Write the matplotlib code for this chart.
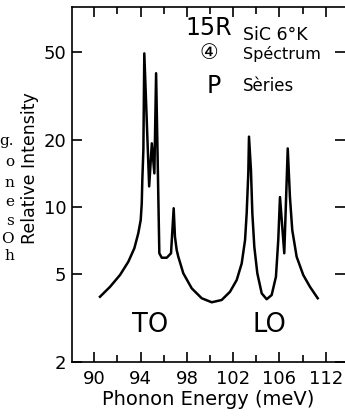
import numpy as np
import matplotlib.pyplot as plt
from matplotlib.ticker import FixedLocator, NullLocator

# Phonon spectrum of 15R SiC
energy = [90.49, 91.36, 92.22, 92.94, 93.46, 93.80, 94.01, 94.10, 94.15, 94.24,
          94.32, 94.74, 94.97, 95.19, 95.34, 95.62, 95.83, 96.26, 96.63, 96.86,
          96.97, 97.12, 97.26, 97.69, 98.42, 99.28, 100.15, 101.01, 101.73,
          102.31, 102.74, 103.03, 103.17, 103.31, 103.37, 103.54, 103.66, 103.83,
          104.09, 104.47, 104.90, 105.33, 105.70, 105.90, 106.05, 106.42, 106.72,
          106.91, 107.11, 107.49, 108.06, 108.64, 109.31]
intensity = [3.94, 4.37, 4.94, 5.67, 6.52, 7.62, 8.75, 10.4, 13.3, 18.1,
             49.4, 12.4, 19.4, 14.2, 40.2, 6.19, 5.91, 5.91, 6.19, 9.88,
             7.35, 6.40, 5.97, 5.03, 4.30, 3.88, 3.72, 3.81, 4.15,
             4.69, 5.57, 7.10, 9.38, 14.2, 20.8, 14.7, 9.38, 6.62,
             5.03, 4.08, 3.84, 4.01, 4.85, 7.10, 11.1, 6.19, 18.4,
             11.1, 7.88, 5.97, 4.94, 4.37, 3.88]

x_ticks = [90, 94, 98, 102, 106, 110]
x_labels = ['90', '94', '98', '102', '106', '112']
x_minor = [92, 96, 100, 104, 108]
y_ticks = [2, 5, 10, 20, 50]
y_labels = ['2', '5', '10', '20', '50']

# cut-off caption of the neighbouring column
caption_bits = ['g.', 'o', 'n', 'e', 's', 'O', 'h']
caption_y = [145, 166, 187, 206, 225, 243, 260]

W, H = 345, 419
fig = plt.figure(figsize=(W / 100, H / 100), dpi=100)
ax = fig.add_axes([72 / W, (H - 362) / H, (W - 72) / W, 355 / H])

ax.plot(energy, intensity, color='black', lw=1.8, solid_joinstyle='round')
ax.set_yscale('log')
ax.set_xlim(88.07, 111.67)
ax.set_ylim(2, 80)

ax.xaxis.set_major_locator(FixedLocator(x_ticks))
ax.xaxis.set_minor_locator(FixedLocator(x_minor))
ax.set_xticklabels(x_labels)
ax.yaxis.set_major_locator(FixedLocator(y_ticks))
ax.yaxis.set_minor_locator(NullLocator())
ax.set_yticklabels(y_labels)

ax.tick_params(which='both', direction='in', top=True, right=True, width=1.2)
ax.tick_params(axis='x', which='major', length=7.5, labelsize=13, pad=6)
ax.tick_params(axis='x', which='minor', length=5)
ax.tick_params(axis='y', which='major', length=7, labelsize=13, pad=4)
ax.spines['right'].set_visible(False)
for s in ['left', 'bottom', 'top']:
    ax.spines[s].set_linewidth(1.2)

ax.set_xlabel('Phonon Energy (meV)', fontsize=14, labelpad=1)
fig.text(30 / W, 1 - 168 / H, 'Relative Intensity', rotation=90,
         ha='center', va='center', fontsize=12.5)

def txt(x, y, s, **kw):
    fig.text(x / W, 1 - y / H, s, va='baseline', **kw)

txt(185, 35, '15R', fontsize=17)
txt(243, 40, 'SiC 6°K', fontsize=12.5)
fig.text(208.5 / W, 1 - 53 / H, '④', ha='center', va='center', fontsize=15,
         family=['DejaVu Sans', 'Noto Sans CJK JP'])
txt(243, 59, 'Spéctrum', fontsize=11.5)
txt(207, 93, 'P', fontsize=17)
txt(243, 91, 'Sèries', fontsize=12)
txt(132, 332, 'TO', fontsize=18.5)
txt(253, 332, 'LO', fontsize=18.5)

for s, y in zip(caption_bits, caption_y):
    txt(14, y, s, ha='right', fontsize=11, family='DejaVu Serif')

fig.savefig('out.png', dpi=100)
